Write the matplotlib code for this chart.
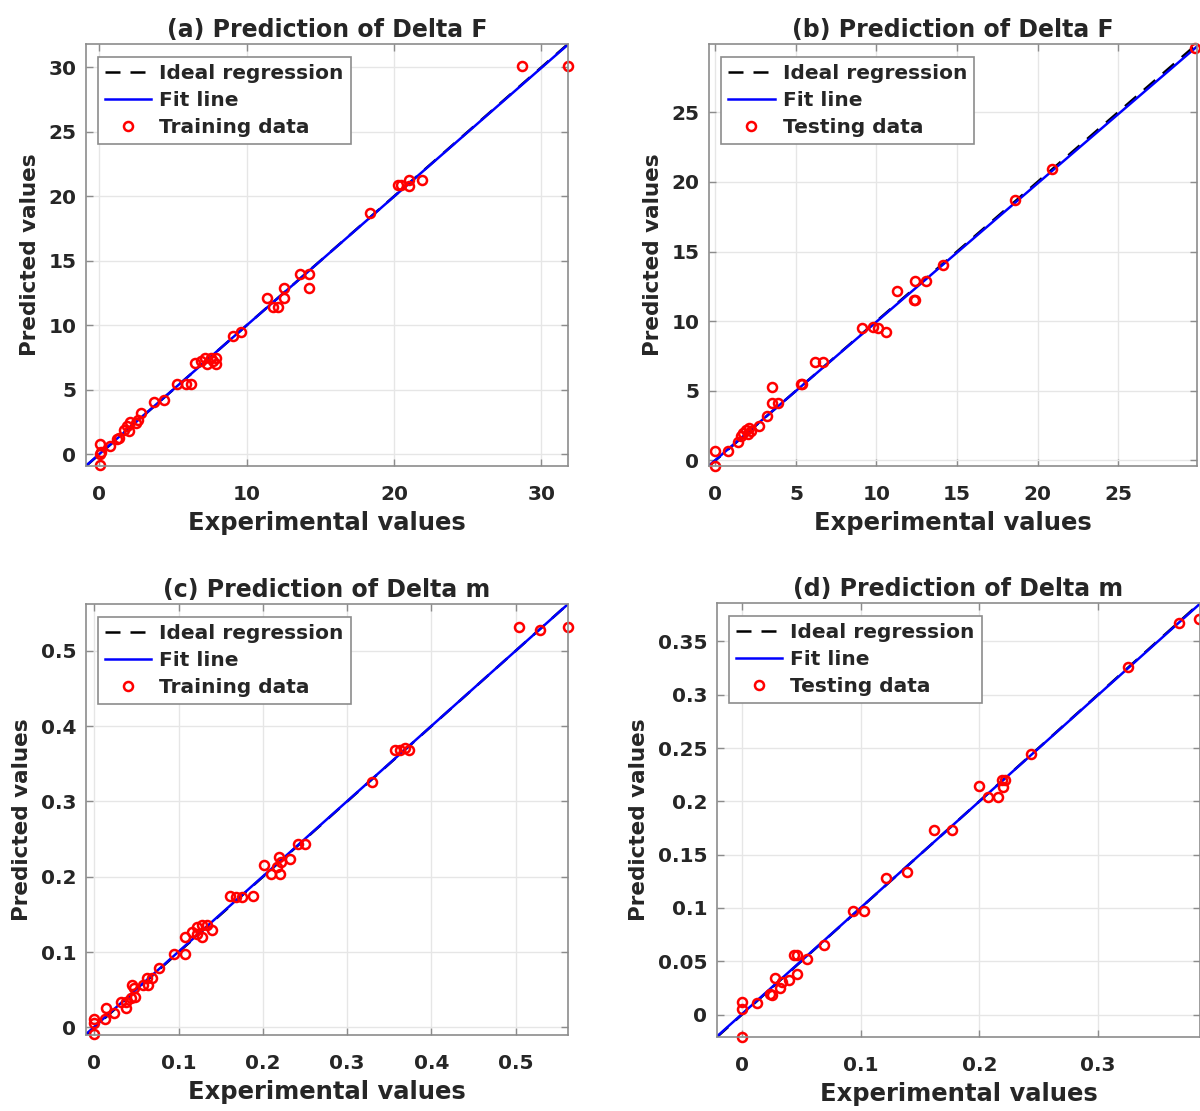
import matplotlib.pyplot as plt
from matplotlib.ticker import FuncFormatter

plt.rcParams['font.family'] = ['DejaVu Sans']
plt.rcParams['font.weight'] = 'bold'

# (a) Delta F, training
x_a = [28.65, 31.8, 20.3, 20.5, 21.0, 21.0, 21.9, 18.4, 13.6, 14.2, 14.2, 12.5, 11.4, 12.5,
       11.8, 12.1, 9.1, 9.6, 6.5, 6.9, 7.2, 7.6, 7.9, 7.9, 7.3, 7.7, 5.3, 5.9, 6.2, 3.7, 4.4,
       2.8, 2.6, 2.1, 1.9, 1.7, 2.0, 2.5, 1.35, 1.2, 0.75, 0.05, 0.05, 0.1, 0.05]
y_a = [30.1, 30.1, 20.9, 20.9, 21.3, 20.8, 21.3, 18.7, 14.0, 14.0, 12.9, 12.9, 12.1, 12.1,
       11.4, 11.4, 9.2, 9.5, 7.06, 7.24, 7.5, 7.5, 7.5, 6.98, 6.98, 7.24, 5.43, 5.43, 5.43, 4.06, 4.2,
       3.2, 2.7, 2.5, 2.2, 1.9, 1.8, 2.45, 1.3, 1.2, 0.65, 0.78, 0.0, 0.15, -0.85]

# (b) Delta F, testing
x_b = [29.8, 20.9, 18.6, 14.1, 12.4, 13.1, 11.3, 12.3, 12.4, 9.1, 9.8, 10.1, 10.6, 6.2, 6.7,
       5.3, 5.4, 3.5, 3.5, 3.9, 3.2, 2.7, 1.9, 2.1, 1.7, 2.0, 2.2, 1.6, 1.4, 0.75, 0.0, 0.0]
y_b = [29.6, 20.9, 18.7, 14.0, 12.9, 12.9, 12.2, 11.5, 11.5, 9.5, 9.6, 9.5, 9.2, 7.1, 7.1,
       5.5, 5.5, 5.3, 4.1, 4.1, 3.2, 2.5, 2.2, 2.3, 2.0, 1.9, 2.1, 1.75, 1.3, 0.67, 0.67, -0.4]

# (c) Delta m, training
x_c = [0.504, 0.529, 0.562, 0.357, 0.363, 0.369, 0.373, 0.329, 0.241, 0.250, 0.232, 0.219,
       0.221, 0.217, 0.201, 0.209, 0.220, 0.161, 0.168, 0.175, 0.188, 0.108, 0.116, 0.122,
       0.128, 0.134, 0.140, 0.128, 0.122, 0.095, 0.108, 0.077, 0.062, 0.068, 0.058, 0.064,
       0.045, 0.047, 0.048, 0.031, 0.037, 0.037, 0.043, 0.014, 0.023, 0.013, 0.0, 0.0, 0.0]
y_c = [0.531, 0.527, 0.531, 0.368, 0.368, 0.371, 0.368, 0.326, 0.243, 0.243, 0.224, 0.226,
       0.219, 0.213, 0.215, 0.204, 0.204, 0.174, 0.173, 0.173, 0.174, 0.120, 0.127, 0.133,
       0.136, 0.136, 0.129, 0.120, 0.124, 0.098, 0.097, 0.079, 0.065, 0.066, 0.056, 0.057,
       0.056, 0.052, 0.041, 0.034, 0.034, 0.026, 0.039, 0.026, 0.019, 0.011, 0.011, 0.006, -0.009]

# (d) Delta m, testing
x_d = [0.385, 0.368, 0.325, 0.244, 0.219, 0.220, 0.222, 0.200, 0.207, 0.216, 0.162, 0.177,
       0.121, 0.139, 0.094, 0.103, 0.069, 0.044, 0.046, 0.055, 0.046, 0.028, 0.040, 0.034,
       0.032, 0.024, 0.025, 0.013, 0.0, 0.0, 0.0]
y_d = [0.371, 0.367, 0.326, 0.244, 0.220, 0.213, 0.220, 0.214, 0.204, 0.204, 0.173, 0.173,
       0.128, 0.134, 0.097, 0.097, 0.065, 0.056, 0.056, 0.052, 0.038, 0.034, 0.032, 0.031,
       0.025, 0.019, 0.018, 0.011, 0.012, 0.005, -0.021]

# fit line (slope, intercept)
fit_a = (0.998, 0.02)
fit_b = (0.993, 0.03)
fit_c = (0.998, 0.001)
fit_d = (0.997, 0.0005)

panels = [
    dict(x=x_a, y=y_a, fit=fit_a, lim=(-0.9, 31.8), xt=[0, 10, 20, 30], yt=[0, 5, 10, 15, 20, 25, 30],
         title="(a) Prediction of Delta F", lab="Training data", pos=[86, 44, 568, 466]),
    dict(x=x_b, y=y_b, fit=fit_b, lim=(-0.4, 29.9), xt=[0, 5, 10, 15, 20, 25], yt=[0, 5, 10, 15, 20, 25],
         title="(b) Prediction of Delta F", lab="Testing data", pos=[709, 44, 1197, 466]),
    dict(x=x_c, y=y_c, fit=fit_c, lim=(-0.01, 0.562), xt=[0, 0.1, 0.2, 0.3, 0.4, 0.5],
         yt=[0, 0.1, 0.2, 0.3, 0.4, 0.5],
         title="(c) Prediction of Delta m", lab="Training data", pos=[86, 604, 568, 1035]),
    dict(x=x_d, y=y_d, fit=fit_d, lim=(-0.021, 0.386), xt=[0, 0.1, 0.2, 0.3],
         yt=[0, 0.05, 0.1, 0.15, 0.2, 0.25, 0.3, 0.35],
         title="(d) Prediction of Delta m", lab="Testing data", pos=[717, 603, 1200, 1037]),
]

W, H = 1200, 1111
fig = plt.figure(figsize=(W / 100, H / 100), dpi=100)
txt = '#262626'
fmt = FuncFormatter(lambda v, p: '%g' % v)

for p in panels:
    l, t, r, b = p['pos']
    ax = fig.add_axes([l / W, 1 - b / H, (r - l) / W, (b - t) / H])
    lo, hi = p['lim']
    ax.plot([lo, hi], [lo, hi], color='black', linestyle='--', dashes=(6, 4), linewidth=1.8,
            label='Ideal regression')
    m, c = p['fit']
    ax.plot([lo, hi], [m * lo + c, m * hi + c], color='#0000ff', linewidth=1.8, label='Fit line')
    ax.plot(p['x'], p['y'], 'o', markerfacecolor='none', markeredgecolor='red', markersize=6.5,
            markeredgewidth=1.8, label=p['lab'], clip_on=False)
    ax.set_xlim(lo, hi)
    ax.set_ylim(lo, hi)
    ax.set_xticks(p['xt'])
    ax.set_yticks(p['yt'])
    ax.xaxis.set_major_formatter(fmt)
    ax.yaxis.set_major_formatter(fmt)
    ax.grid(True, color='#e6e6e6', linewidth=1.0)
    ax.set_axisbelow(True)
    ax.tick_params(direction='in', top=True, right=True, length=5, width=1, color='#8c8c8c',
                   labelsize=14.5, labelcolor=txt, pad=7)
    ax.tick_params(axis='x', pad=13.5)
    for s in ax.spines.values():
        s.set_color('#8c8c8c')
        s.set_linewidth(1.2)
    ax.set_title(p['title'], fontsize=17, fontweight='bold', color=txt, pad=5)
    ax.set_xlabel('Experimental values', fontsize=17.5, fontweight='bold', color=txt, labelpad=5)
    ax.set_ylabel('Predicted values', fontsize=15.5, fontweight='bold', color=txt, labelpad=6)
    leg = ax.legend(loc='upper left', bbox_to_anchor=(0.025, 0.97), fontsize=14.5, frameon=True,
                    fancybox=False, framealpha=1, edgecolor='#8c8c8c', handlelength=2.3,
                    handletextpad=0.4, labelspacing=0.4, borderpad=0.35, borderaxespad=0)
    leg.get_frame().set_linewidth(1.2)
    for tx in leg.get_texts():
        tx.set_color(txt)

fig.savefig('out.png', dpi=100)
